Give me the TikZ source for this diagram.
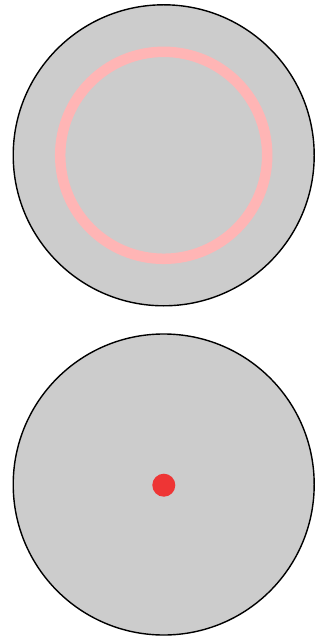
\documentclass[tikz,border=0pt]{standalone}
\usepackage{tikz}
\definecolor{disc}{HTML}{CCCCCC}
\definecolor{ringc}{HTML}{FFB5B5}
\definecolor{dotc}{HTML}{EE3535}
\tikzset{
  discstyle/.style={circle, draw=black, line width=1.4pt, fill=disc, minimum size=301pt, inner sep=0pt, outer sep=0pt},
  ringstyle/.style={circle, draw=ringc, line width=10.5pt, minimum size=207pt, inner sep=0pt, outer sep=0pt},
  dotstyle/.style={circle, fill=dotc, draw=none, minimum size=23pt, inner sep=0pt, outer sep=0pt}
}
\begin{document}
\begin{tikzpicture}[x=1pt,y=-1pt]
\useasboundingbox (0,0) rectangle (326,636);
\node[discstyle] (top) at (163.7,155.3) {};
\node[ringstyle] (ring) at (163.7,155.3) {};
\node[discstyle] (bottom) at (163.7,484.5) {};
\node[dotstyle] (dot) at (163.8,485.2) {};
\end{tikzpicture}
\end{document}
